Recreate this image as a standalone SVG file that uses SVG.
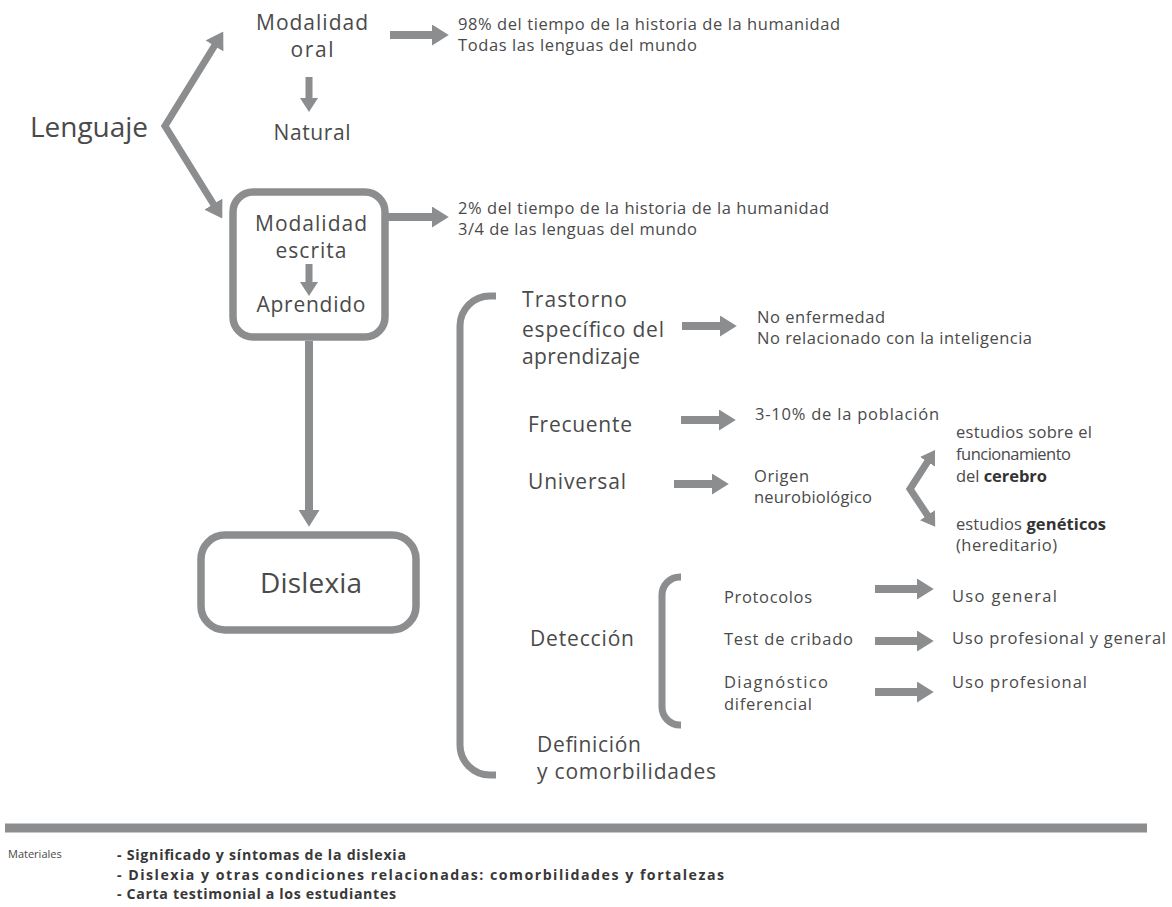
<svg xmlns="http://www.w3.org/2000/svg" width="1172" height="907" viewBox="0 0 1172 907">
<defs>
<marker id="ah" viewBox="0 0 16 20" refX="1" refY="10" markerWidth="17" markerHeight="21" markerUnits="userSpaceOnUse" orient="auto-start-reverse">
<path d="M0,0 L16,10 L0,20 z" fill="#8c8d8f"/>
</marker>
<marker id="ahs" viewBox="0 0 14 18" refX="1" refY="9" markerWidth="14" markerHeight="19" markerUnits="userSpaceOnUse" orient="auto-start-reverse">
<path d="M0,0 L14,9 L0,18 z" fill="#8c8d8f"/>
</marker>
</defs>
<style>
text{font-family:"Open Sans","Liberation Sans",sans-serif;fill:#4a4a4a}
.big{font-size:28px}
.mid{font-size:21px}
.sm{font-size:16.5px}
.xs{font-size:11px}
.mat{font-size:14.2px;font-weight:bold;fill:#383838}
.b{font-weight:bold;fill:#333}
.c{text-anchor:middle}
.ln{fill:none;stroke:#8c8d8f;stroke-width:7}
.arr{fill:none;stroke:#8c8d8f;stroke-width:8;marker-end:url(#ah)}
.arrs{fill:none;stroke:#8c8d8f;stroke-width:7;marker-end:url(#ahs)}
.box{fill:none;stroke:#8c8d8f;stroke-width:7.5}
</style>
<rect width="1172" height="907" fill="#ffffff"/>

<g id="connectors">
<path d="M215,45 L165,126 L214,205" fill="none" stroke="#8c8d8f" stroke-width="7" marker-start="url(#ah)" marker-end="url(#ah)"/>
<line class="arr" x1="390" y1="35" x2="433" y2="35"/>
<line class="arrs" x1="309" y1="77" x2="309" y2="99"/>
<line class="arr" x1="388" y1="217" x2="433" y2="217"/>
<line class="arrs" x1="309" y1="264" x2="309" y2="283"/>
<line class="arr" x1="309" y1="341" x2="309" y2="511"/>
<line class="arr" x1="682" y1="326" x2="721" y2="326"/>
<line class="arr" x1="681" y1="420" x2="720" y2="420"/>
<line class="arr" x1="674" y1="484" x2="713" y2="484"/>
<path d="M928,461 L910,489 L928,516" fill="none" stroke="#8c8d8f" stroke-width="7" marker-start="url(#ahs)" marker-end="url(#ahs)"/>
<line class="arr" x1="875" y1="589" x2="918" y2="589"/>
<line class="arr" x1="875" y1="641" x2="918" y2="641"/>
<line class="arr" x1="875" y1="692" x2="918" y2="692"/>
<path class="ln" stroke-width="8" d="M496,296 H490 A30,30 0 0 0 460,326 V745 A30,30 0 0 0 490,775 H496"/>
<path class="ln" stroke-width="8" d="M681,577 H680 A18,18 0 0 0 662,595 V707 A18,18 0 0 0 680,725 H681"/>
<line x1="5" y1="828" x2="1147" y2="828" stroke="#8c8d8f" stroke-width="9"/>
</g>

<g id="lenguaje"><text class="big" x="30" y="137" textLength="118">Lenguaje</text></g>

<g id="oral">
<text class="mid c" x="312" y="30" textLength="112">Modalidad</text>
<text class="mid c" x="312" y="57" textLength="43">oral</text>
</g>
<g id="natural"><text class="mid c" x="312" y="140" textLength="77">Natural</text></g>
<g id="oral-info">
<text class="sm" x="458" y="30" textLength="382">98% del tiempo de la historia de la humanidad</text>
<text class="sm" x="458" y="51" textLength="239">Todas las lenguas del mundo</text>
</g>

<g id="escrita">
<rect class="box" x="233" y="192" width="152" height="145" rx="20"/>
<text class="mid c" x="311" y="231" textLength="112">Modalidad</text>
<text class="mid c" x="311" y="258" textLength="71">escrita</text>
<text class="mid c" x="311" y="312" textLength="109">Aprendido</text>
</g>
<g id="escrita-info">
<text class="sm" x="458" y="214" textLength="371">2% del tiempo de la historia de la humanidad</text>
<text class="sm" x="458" y="235" textLength="239">3/4 de las lenguas del mundo</text>
</g>

<g id="dislexia">
<rect class="box" x="201" y="535" width="215" height="95" rx="24"/>
<text class="big c" x="311" y="593" textLength="102">Dislexia</text>
</g>

<g id="trastorno">
<text class="mid" x="522" y="307" textLength="105">Trastorno</text>
<text class="mid" x="522" y="337" textLength="142">específico del</text>
<text class="mid" x="522" y="364" textLength="118">aprendizaje</text>
</g>
<g id="trastorno-info">
<text class="sm" x="757" y="323" textLength="128">No enfermedad</text>
<text class="sm" x="757" y="344" textLength="275">No relacionado con la inteligencia</text>
</g>

<g id="frecuente"><text class="mid" x="528" y="432" textLength="104">Frecuente</text></g>
<g id="frecuente-info"><text class="sm" x="755" y="420" textLength="184">3-10% de la población</text></g>

<g id="universal"><text class="mid" x="528" y="489" textLength="98">Universal</text></g>
<g id="origen">
<text class="sm" x="754" y="482" textLength="55">Origen</text>
<text class="sm" x="754" y="503" textLength="118">neurobiológico</text>
</g>
<g id="cerebro">
<text class="sm" x="956" y="438" textLength="136">estudios sobre el</text>
<text class="sm" x="956" y="460" textLength="115">funcionamiento</text>
<text class="sm" x="956" y="482" textLength="91">del <tspan class="b">cerebro</tspan></text>
</g>
<g id="geneticos">
<text class="sm" x="956" y="530" textLength="150">estudios <tspan class="b">genéticos</tspan></text>
<text class="sm" x="956" y="551" textLength="101">(hereditario)</text>
</g>

<g id="deteccion"><text class="mid" x="530" y="646" textLength="104">Detección</text></g>
<g id="protocolos"><text class="sm" x="724" y="603" textLength="88">Protocolos</text></g>
<g id="uso-general"><text class="sm" x="952" y="602" textLength="105">Uso general</text></g>
<g id="test"><text class="sm" x="724" y="645" textLength="129">Test de cribado</text></g>
<g id="uso-prof-gen"><text class="sm" x="952" y="644" textLength="214">Uso profesional y general</text></g>
<g id="diagnostico">
<text class="sm" x="724" y="688" textLength="104">Diagnóstico</text>
<text class="sm" x="724" y="710" textLength="88">diferencial</text>
</g>
<g id="uso-prof"><text class="sm" x="952" y="688" textLength="135">Uso profesional</text></g>

<g id="definicion">
<text class="mid" x="537" y="752" textLength="104">Definición</text>
<text class="mid" x="537" y="779" textLength="179">y comorbilidades</text>
</g>

<g id="materiales">
<text class="xs" x="8" y="858">Materiales</text>
<text class="mat" x="117" y="860" textLength="289">- Significado y síntomas de la dislexia</text>
<text class="mat" x="117" y="880" textLength="607">- Dislexia y otras condiciones relacionadas: comorbilidades y fortalezas</text>
<text class="mat" x="117" y="899" textLength="279">- Carta testimonial a los estudiantes</text>
</g>
</svg>
